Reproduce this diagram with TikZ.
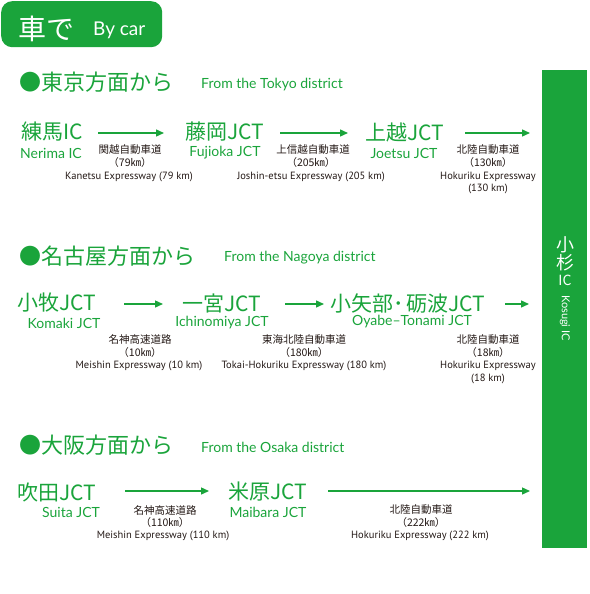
\documentclass[tikz,border=0pt]{standalone}
\usepackage{fontspec}
\setmainfont{PT Sans}
\newfontfamily\jp{Noto Sans CJK JP}
\newfontfamily\lat{Lato}
\usetikzlibrary{arrows.meta}
\definecolor{grn}{RGB}{26,164,59}
\definecolor{ink}{RGB}{35,24,21}
\begin{document}
\begin{tikzpicture}[x=1pt,y=-1pt,
  every node/.style={inner sep=0pt},
  hdr/.style={font=\jp\fontsize{22}{22}\selectfont, text=grn, anchor=west},
  district/.style={font=\lat\fontsize{14}{14}\selectfont, text=grn, anchor=west},
  jname/.style={font=\jp\fontsize{21}{21}\selectfont, text=grn},
  ename/.style={font=\lat\fontsize{14}{14}\selectfont, text=grn},
  jroad/.style={font=\jp\fontsize{10.5}{11}\selectfont, text=ink},
  eroad/.style={font=\fontsize{10.5}{11}\selectfont, text=ink},
  arr/.style={draw=grn, line width=1.4pt, -{Triangle[length=8pt,width=7pt]}},
  bar/.style={fill=grn, draw=none}
]
\useasboundingbox (0,0) rectangle (589,594);

% header
\node[bar, rounded corners=11pt, minimum width=161pt, minimum height=46pt, anchor=north west] (title) at (1,1) {};
\node[font=\jp\fontsize{28}{28}\selectfont, text=white, anchor=west] (titlejp) at (18,29) {車で};
\node[font=\lat\fontsize{19}{19}\selectfont, text=white, anchor=west] (titleen) at (93,30) {By car};

% right bar
\node[bar, minimum width=45pt, minimum height=478pt, anchor=north west] (kosugi) at (542,70) {};
\node[font=\jp\fontsize{18}{18}\selectfont, text=white] (k1) at (565,245) {小};
\node[font=\jp\fontsize{18}{18}\selectfont, text=white] (k2) at (565,263) {杉};
\node[font=\jp\fontsize{14}{14}\selectfont, text=white] (k3) at (565,280) {IC};
\node[font=\lat\fontsize{11}{11}\selectfont, text=white, rotate=-90] (k4) at (565,318) {Kosugi IC};

% ===== Tokyo =====
\node[hdr] (h1) at (19,82) {●東京方面から};
\node[district] (d1) at (201,85) {From the Tokyo district};

\node[jname] (n11) at (52,132) {練馬IC};
\node[ename] (e11) at (51,153) {Nerima IC};
\node[jname] (n12) at (225,132) {藤岡JCT};
\node[ename] (e12) at (225,153) {Fujioka JCT};
\node[jname] (n13) at (405,132) {上越JCT};
\node[ename] (e13) at (404,153) {Joetsu JCT};

\coordinate (a11s) at (98,133);  \coordinate (a11e) at (164,133);
\coordinate (a12s) at (280,133); \coordinate (a12e) at (348,133);
\coordinate (a13s) at (465,133); \coordinate (a13e) at (530,133);
\draw[arr] (a11s) -- (a11e);
\draw[arr] (a12s) -- (a12e);
\draw[arr] (a13s) -- (a13e);

\node[jroad] (r11a) at (130,150) {関越自動車道};
\node[jroad] (r11b) at (130,163) {（79㎞）};
\node[eroad] (r11c) at (129,177) {Kanetsu Expressway (79 km)};
\node[jroad] (r12a) at (313,150) {上信越自動車道};
\node[jroad] (r12b) at (311,163) {（205㎞）};
\node[eroad] (r12c) at (311,177) {Joshin-etsu Expressway (205 km)};
\node[jroad] (r13a) at (488,150) {北陸自動車道};
\node[jroad] (r13b) at (488,163) {（130㎞）};
\node[eroad] (r13c) at (488,177) {Hokuriku Expressway};
\node[eroad] (r13d) at (488,189) {(130 km)};

% ===== Nagoya =====
\node[hdr] (h2) at (19,256) {●名古屋方面から};
\node[district] (d2) at (224,258) {From the Nagoya district};

\node[jname] (n21) at (57,303) {小牧JCT};
\node[ename] (e21) at (64,323) {Komaki JCT};
\node[jname] (n22) at (222,303) {一宮JCT};
\node[ename] (e22) at (222,323) {Ichinomiya JCT};
\node[jname] (n23) at (408,303) {小矢部･\hspace{2pt}砺波JCT};
\node[ename] (e23) at (412,322) {Oyabe–Tonami JCT};

\coordinate (a21s) at (124,304); \coordinate (a21e) at (163,304);
\coordinate (a22s) at (285,304); \coordinate (a22e) at (324,304);
\coordinate (a23s) at (505,304); \coordinate (a23e) at (529,304);
\draw[arr] (a21s) -- (a21e);
\draw[arr] (a22s) -- (a22e);
\draw[arr] (a23s) -- (a23e);

\node[jroad] (r21a) at (140,340) {名神高速道路};
\node[jroad] (r21b) at (140,353) {（10㎞）};
\node[eroad] (r21c) at (139,366) {Meishin Expressway (10 km)};
\node[jroad] (r22a) at (304,340) {東海北陸自動車道};
\node[jroad] (r22b) at (304,353) {（180㎞）};
\node[eroad] (r22c) at (304,366) {Tokai-Hokuriku Expressway (180 km)};
\node[jroad] (r23a) at (488,340) {北陸自動車道};
\node[jroad] (r23b) at (488,353) {（18㎞）};
\node[eroad] (r23c) at (488,366) {Hokuriku Expressway};
\node[eroad] (r23d) at (488,379) {(18 km)};

% ===== Osaka =====
\node[hdr] (h3) at (19,445) {●大阪方面から};
\node[district] (d3) at (201,447) {From the Osaka district};

\node[jname] (n31) at (57,492) {吹田JCT};
\node[ename] (e31) at (71,512) {Suita JCT};
\node[jname] (n32) at (268,492) {米原JCT};
\node[ename] (e32) at (268,512) {Maibara JCT};

\coordinate (a31s) at (125,491); \coordinate (a31e) at (209,491);
\coordinate (a32s) at (328,491); \coordinate (a32e) at (530,491);
\draw[arr] (a31s) -- (a31e);
\draw[arr] (a32s) -- (a32e);

\node[jroad] (r31a) at (165,510) {名神高速道路};
\node[jroad] (r31b) at (165,523) {（110㎞）};
\node[eroad] (r31c) at (163,536) {Meishin Expressway (110 km)};
\node[jroad] (r32a) at (421,510) {北陸自動車道};
\node[jroad] (r32b) at (421,523) {（222㎞）};
\node[eroad] (r32c) at (420,536) {Hokuriku Expressway (222 km)};
\end{tikzpicture}
\end{document}
